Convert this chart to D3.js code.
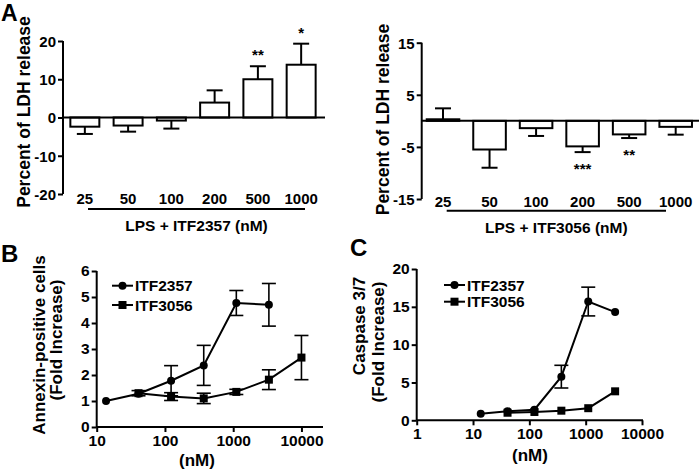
<!DOCTYPE html>
<html>
<head>
<meta charset="utf-8">
<script src="https://cdn.jsdelivr.net/npm/d3@7"></script>
<style>
  html, body { margin: 0; padding: 0; background: #fff; }
  svg text { font-family: "Liberation Sans", Arial, Helvetica, sans-serif; font-weight: bold; fill: #000; }
</style>
</head>
<body>
<svg id="chart" width="700" height="471"></svg>
<script>
// ---------- Data ----------
const lpsDoses = ["25", "50", "100", "200", "500", "1000"];
const ldh2357 = [-2.4, -2.1, -0.8, 3.9, 10.0, 13.8];
const ldh2357Err = [1.9, 1.6, 2.1, 3.2, 3.4, 5.5];
const ldh2357Sig = ["", "", "", "", "**", "*"];
const ldh3056 = [0.3, -5.5, -1.4, -4.9, -2.6, -1.15];
const ldh3056Err = [2.1, 3.5, 1.5, 1.1, 0.7, 1.5];
const ldh3056Sig = ["", "", "", "***", "**", ""];
const ldhTicksLeft = [-20, -10, 0, 10, 20];
const ldhTicksRight = [-15, -5, 5, 15];

const concB2357 = [13.7, 41, 123, 370, 1111, 3333];
const annexin2357 = [1.0, 1.28, 1.78, 2.37, 4.77, 4.7];
const annexin2357Err = [0, 0, 0.58, 0.77, 0.48, 0.82];
const concB3056 = [41, 123, 370, 1111, 3333, 10000];
const annexin3056 = [1.3, 1.17, 1.1, 1.35, 1.82, 2.67];
const annexin3056Err = [0.1, 0.15, 0.2, 0.1, 0.38, 0.85];

const concC2357 = [13.7, 41, 123, 370, 1111, 3333];
const caspase2357 = [0.87, 1.2, 1.4, 5.77, 15.7, 14.3];
const caspase2357Err = [0, 0, 0, 1.5, 1.9, 0];
const concC3056 = [41, 123, 370, 1111, 3333];
const caspase3056 = [1.0, 1.1, 1.27, 1.6, 3.83];
const caspase3056Err = [0, 0, 0, 0, 0];

const seriesNames = ["ITF2357", "ITF3056"];

// ---------- Setup ----------
const svg = d3.select("#chart");
const LW = 2;
const fmt = d => String(d);

function panelLetter(t, x, y, s) {
  svg.append("text").attr("x", x).attr("y", y).attr("font-size", s).text(t);
}
function vTitle(t, x, y, size) {
  svg.append("text").attr("transform", `translate(${x},${y}) rotate(-90)`)
    .attr("text-anchor", "middle").attr("font-size", size).text(t);
}

// ---------- Bar panel ----------
function barPanel(o) {
  const g = svg.append("g");
  const x = d3.scaleBand().domain(lpsDoses).range([o.x0, o.x1])
    .paddingInner(o.padIn).paddingOuter(o.padOut);
  const y = d3.scaleLinear().domain(o.ydom).range([o.yb, o.yt]);

  const ya = d3.axisLeft(y).tickValues(o.ticks).tickSize(5).tickPadding(2).tickFormat(fmt);
  const ag = g.append("g").attr("transform", `translate(${o.x0},0)`).call(ya);
  ag.select(".domain").attr("stroke-width", LW).attr("d", `M0,${o.yb}V${o.yt}`);
  ag.selectAll(".tick line").attr("stroke-width", LW);
  ag.selectAll(".tick text").attr("font-size", 15).attr("font-family", null).attr("dy", "0.36em");

  const vals = o.vals, errs = o.errs;
  g.selectAll("rect.bar").data(lpsDoses).join("rect")
    .attr("x", d => x(d))
    .attr("width", x.bandwidth())
    .attr("y", (d, i) => Math.min(y(vals[i]), y(0)))
    .attr("height", (d, i) => Math.abs(y(vals[i]) - y(0)))
    .attr("fill", "#fff").attr("stroke", "#000").attr("stroke-width", LW);

  const cap = 8;
  lpsDoses.forEach((d, i) => {
    const cx = x(d) + x.bandwidth() / 2;
    const v = vals[i], e = errs[i];
    const end = v >= 0 ? v + e : v - e;
    g.append("line").attr("x1", cx).attr("x2", cx).attr("y1", y(v)).attr("y2", y(end))
      .attr("stroke", "#000").attr("stroke-width", LW);
    g.append("line").attr("x1", cx - cap).attr("x2", cx + cap).attr("y1", y(end)).attr("y2", y(end))
      .attr("stroke", "#000").attr("stroke-width", LW);
    if (o.sig[i]) {
      const yy = v >= 0 ? y(end) - 6 : y(end) + 22;
      g.append("text").attr("x", cx).attr("y", yy).attr("text-anchor", "middle")
        .attr("font-size", 15).text(o.sig[i]);
    }
  });

  g.append("line").attr("x1", o.x0).attr("x2", o.zeroEnd).attr("y1", y(0)).attr("y2", y(0))
    .attr("stroke", "#000").attr("stroke-width", LW);

  g.selectAll("text.cat").data(lpsDoses).join("text")
    .attr("x", d => x(d) + x.bandwidth() / 2).attr("y", o.labY)
    .attr("text-anchor", "middle").attr("font-size", 15).text(d => d);

  g.append("line").attr("x1", o.ulx0).attr("x2", o.ulx1).attr("y1", o.uly).attr("y2", o.uly)
    .attr("stroke", "#000").attr("stroke-width", LW);
  g.append("text").attr("x", (o.ulx0 + o.ulx1) / 2).attr("y", o.titleY)
    .attr("text-anchor", "middle").attr("font-size", 15.5).text(o.title);

  vTitle("Percent of LDH release", o.ytx, o.yty, 17.5);
}

barPanel({
  x0: 63, x1: 323, padIn: 0.33, padOut: 0.17, ydom: [-20, 20], yb: 194, yt: 41,
  ticks: ldhTicksLeft, vals: ldh2357, errs: ldh2357Err, sig: ldh2357Sig, zeroEnd: 325,
  labY: 203.5, ulx0: 88, ulx1: 305, uly: 209, titleY: 230.5, title: "LPS + ITF2357 (nM)",
  ytx: 30, yty: 112
});
barPanel({
  x0: 421.7, x1: 697, padIn: 0.3, padOut: 0.108, ydom: [-15, 15], yb: 199, yt: 42.7,
  ticks: ldhTicksRight, vals: ldh3056, errs: ldh3056Err, sig: ldh3056Sig, zeroEnd: 699,
  labY: 207, ulx0: 446.7, ulx1: 666, uly: 210.7, titleY: 232.5, title: "LPS + ITF3056 (nM)",
  ytx: 388.5, yty: 119.5
});

// ---------- Line panels ----------
function linePanel(o) {
  const g = svg.append("g");
  const x = d3.scaleLog().domain(o.xdom).range([o.x0, o.x1]);
  const y = d3.scaleLinear().domain(o.ydom).range([o.yb, o.yt]);

  const xa = d3.axisBottom(x).tickValues(o.xticks).tickFormat(fmt).tickSize(5).tickPadding(3);
  const xg = g.append("g").attr("transform", `translate(0,${o.yb})`).call(xa);
  xg.select(".domain").attr("stroke-width", LW).attr("d", `M${o.x0},0H${o.x1 + 1}`);
  xg.selectAll(".tick line").attr("stroke-width", LW);
  xg.selectAll(".tick text").attr("font-size", 15.5).attr("font-family", null);

  const ya = d3.axisLeft(y).ticks(o.yticks).tickFormat(fmt).tickSize(5).tickPadding(2);
  const yg = g.append("g").attr("transform", `translate(${o.x0},0)`).call(ya);
  yg.select(".domain").attr("stroke-width", LW).attr("d", `M0,${o.yb}V${o.yt}`);
  yg.selectAll(".tick line").attr("stroke-width", LW);
  yg.selectAll(".tick text").attr("font-size", 15.5).attr("font-family", null);

  const line = d3.line().x(d => x(d[0])).y(d => y(d[1]));
  o.series.forEach(s => {
    const pts = s.c.map((c, i) => [c, s.v[i], s.e[i]]);
    g.append("path").datum(pts).attr("d", line).attr("fill", "none")
      .attr("stroke", "#000").attr("stroke-width", LW);
    pts.forEach(p => {
      if (p[2] > 0) {
        const cx = x(p[0]);
        g.append("line").attr("x1", cx).attr("x2", cx).attr("y1", y(p[1] - p[2])).attr("y2", y(p[1] + p[2]))
          .attr("stroke", "#000").attr("stroke-width", 1.6);
        [p[1] - p[2], p[1] + p[2]].forEach(v => {
          g.append("line").attr("x1", cx - 7).attr("x2", cx + 7).attr("y1", y(v)).attr("y2", y(v))
            .attr("stroke", "#000").attr("stroke-width", 1.6);
        });
      }
    });
    if (s.shape === "circle") {
      g.selectAll(null).data(pts).join("circle")
        .attr("cx", d => x(d[0])).attr("cy", d => y(d[1])).attr("r", 4).attr("fill", "#000");
    } else {
      g.selectAll(null).data(pts).join("rect")
        .attr("x", d => x(d[0]) - 4).attr("y", d => y(d[1]) - 4).attr("width", 8).attr("height", 8).attr("fill", "#000");
    }
  });

  o.series.forEach((s, i) => {
    const ly = o.legY[i];
    g.append("line").attr("x1", o.legX0).attr("x2", o.legX0 + 21).attr("y1", ly).attr("y2", ly)
      .attr("stroke", "#000").attr("stroke-width", LW);
    const mx = o.legX0 + 10.5;
    if (s.shape === "circle") g.append("circle").attr("cx", mx).attr("cy", ly).attr("r", 4).attr("fill", "#000");
    else g.append("rect").attr("x", mx - 4).attr("y", ly - 4).attr("width", 8).attr("height", 8).attr("fill", "#000");
    g.append("text").attr("x", o.legX0 + 23).attr("y", ly + 5.5).attr("font-size", 15.5).text(s.name);
  });

  g.append("text").attr("x", o.nmX).attr("y", o.nmY).attr("text-anchor", "middle")
    .attr("font-size", 17).text("(nM)");
  o.titles.forEach(t => vTitle(t.t, t.x, t.y, t.s));
}

linePanel({
  xdom: [10, 20000], x0: 96.7, x1: 322, ydom: [0, 6], yb: 427, yt: 271,
  xticks: [10, 100, 1000, 10000], yticks: 6,
  series: [
    { name: seriesNames[0], shape: "circle", c: concB2357, v: annexin2357, e: annexin2357Err },
    { name: seriesNames[1], shape: "square", c: concB3056, v: annexin3056, e: annexin3056Err }
  ],
  legX0: 112, legY: [285.7, 305],
  nmX: 197, nmY: 466,
  titles: [
    { t: "Annexin-positive cells", x: 45, y: 345, s: 17 },
    { t: "(Fold Increase)", x: 62, y: 340, s: 17 }
  ]
});

linePanel({
  xdom: [1, 10000], x0: 416.7, x1: 642, ydom: [0, 20], yb: 420.3, yt: 269,
  xticks: [1, 10, 100, 1000, 10000], yticks: 4,
  series: [
    { name: seriesNames[0], shape: "circle", c: concC2357, v: caspase2357, e: caspase2357Err },
    { name: seriesNames[1], shape: "square", c: concC3056, v: caspase3056, e: caspase3056Err }
  ],
  legX0: 444, legY: [285, 301.7],
  nmX: 530, nmY: 461,
  titles: [
    { t: "Caspase 3/7", x: 364.5, y: 326, s: 17 },
    { t: "(Fold Increase)", x: 384, y: 342, s: 17 }
  ]
});

panelLetter("A", 1, 21, 23);
panelLetter("B", 1, 262, 24);
panelLetter("C", 350, 256, 24);
</script>
</body>
</html>
